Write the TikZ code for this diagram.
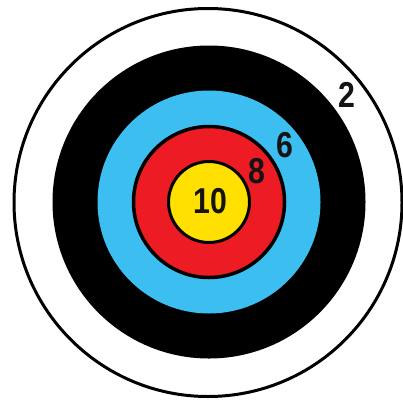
\documentclass[tikz,border=0pt]{standalone}
\usepackage{fontspec}
\setmainfont{Liberation Sans}
\definecolor{tyellow}{RGB}{255,224,0}
\definecolor{tred}{RGB}{237,28,36}
\definecolor{tblue}{RGB}{60,190,240}
\definecolor{tdark}{RGB}{20,20,20}
\tikzset{
  ring/.style={circle, minimum size=#1, inner sep=0pt},
  score/.style={text=tdark, inner sep=0pt, font=\fontsize{36}{40}\selectfont\bfseries, xscale=0.84}
}
\begin{document}
\begin{tikzpicture}[x=1pt,y=-1pt]
\useasboundingbox (0,0) rectangle (403,402);
\fill[white] (0,0) rectangle (403,402);
\coordinate (c) at (209,202);
\node[ring=388pt, draw=black, line width=3pt] (outer) at (208,202.5) {};
\node[ring=313pt, fill=black] (black) at (c) {};
\node[ring=223pt, fill=tblue] (blue) at (c) {};
\node[ring=151pt, fill=tred, draw=black, line width=3.5pt] (red) at (c) {};
\node[ring=81pt, fill=tyellow, draw=black, line width=3pt] (yellow) at (c) {};
\node[score] (t10) at (210,201) {10};
\node[score] (t8) at (256.5,171) {8};
\node[score] (t6) at (284.5,145) {6};
\node[score] (t2) at (347,95) {2};
\end{tikzpicture}
\end{document}
